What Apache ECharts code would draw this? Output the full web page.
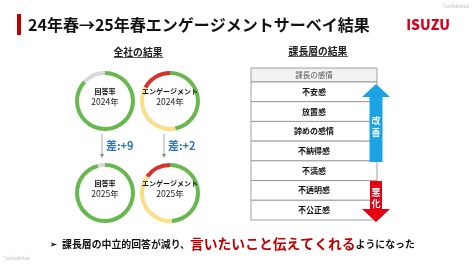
<!DOCTYPE html>
<html>
<head>
<meta charset="utf-8">
<script src="https://cdn.jsdelivr.net/npm/echarts@6/dist/echarts.min.js"></script>
<style>
    html, body { margin: 0; padding: 0; background: #fff; }
    #main { width: 474px; height: 266px; }
</style>
</head>
<body>
<div id="main"></div>
<script>
// 全社の結果 (%)
const donutTitles = ['回答率', 'エンゲージメント'];
const years = ['2024年', '2025年'];
const responseRate = [87, 96];               // 回答率 2024, 2025
const engagement2024 = [47, 36, 17];         // 肯定 / 中立 / 否定
const engagement2025 = [49, 36, 15];
const diffLabels = ['差:+9', '差:+2'];
// 課長層の結果
const tableHeader = '課長の感情';
const feelingRows = ['不安感', '放置感', '諦めの感情', '不納得感', '不満感', '不透明感', '不公正感'];

const FONT = '"Noto Sans CJK JP", "Noto Sans", sans-serif';
const GREEN = '#67b84f', GRAY = '#d9d9d9', YELLOW = '#fbdf86', RED = '#d8312b';

const chart = echarts.init(document.getElementById('main'));

// ドーナツ
const ring = (center, values, colors) => ({
    type: 'pie',
    center: center,
    radius: [26, 30],
    startAngle: 90,
    silent: true,
    label: { show: false },
    labelLine: { show: false },
    data: values.map((v, i) => ({ value: v, itemStyle: { color: colors[i] } }))
});

const colX = [105, 170];
const rowY = [101, 193];

const series = [
    ring([colX[0], rowY[0]], [responseRate[0], 100 - responseRate[0]], [GREEN, GRAY]),
    ring([colX[1], rowY[0]], engagement2024, [GREEN, YELLOW, RED]),
    ring([colX[0], rowY[1]], [responseRate[1], 100 - responseRate[1]], [GREEN, GRAY]),
    ring([colX[1], rowY[1]], engagement2025, [GREEN, YELLOW, RED])
];

const graphic = [];
const text = (x, y, str, size, opt) => {
    opt = opt || {};
    graphic.push({
        type: 'text', x: x, y: y, z: opt.z || 10,
        style: {
            text: str, fill: opt.color || '#222', fontSize: size,
            fontWeight: opt.weight || 'bold', fontFamily: FONT,
            align: opt.align || 'center', verticalAlign: 'middle'
        }
    });
};

// タイトル
graphic.push({ type: 'rect', shape: { x: 17, y: 14, width: 4, height: 21 }, style: { fill: '#c00000' } });
text(28, 25, '24年春→25年春エンゲージメントサーベイ結果', 16, { align: 'left', color: '#111' });
text(428, 25, 'ISUZU', 14, { color: '#d7001d', weight: 900 });
text(469, 6, 'Confidential', 4.5, { align: 'right', color: '#bbb', weight: 'normal' });
text(4, 258, 'Confidential', 4.5, { align: 'left', color: '#bbb', weight: 'normal' });

// 見出し
text(138, 52, '全社の結果', 9.8);
graphic.push({ type: 'line', shape: { x1: 114, y1: 57.5, x2: 163, y2: 57.5 }, style: { stroke: '#333', lineWidth: 0.8 } });
text(318, 51, '課長層の結果', 9.8);
graphic.push({ type: 'line', shape: { x1: 288, y1: 56.5, x2: 348, y2: 56.5 }, style: { stroke: '#333', lineWidth: 0.8 } });

// ドーナツ内ラベル
rowY.forEach((cy, r) => {
    colX.forEach((cx, c) => {
        text(cx, cy - 10, donutTitles[c], 7, { color: '#111' });
        text(cx, cy + 1, years[r], 8.5, { weight: 'normal', color: '#222' });
    });
});

// 差の矢印
colX.forEach((cx, c) => {
    const ax = [102, 164][c];
    graphic.push({ type: 'line', shape: { x1: ax, y1: 134, x2: ax, y2: 155 }, style: { stroke: '#a6a6a6', lineWidth: 1 } });
    graphic.push({ type: 'polygon', shape: { points: [[ax - 2, 154], [ax + 2, 154], [ax, 158]] }, style: { fill: '#8c8c8c' } });
    text(ax + 4, 146, diffLabels[c], 11, { align: 'left', color: '#2e74b5' });
});

// 課長の感情テーブル
const tx = 251, tw = 126, hy = 68, hh = 14, rh = (220 - 82) / feelingRows.length;
graphic.push({ type: 'rect', shape: { x: tx, y: hy, width: tw, height: hh }, style: { fill: '#f2f2f2', stroke: '#8c8c8c', lineWidth: 0.8 } });
text(tx + tw / 2, hy + hh / 2, tableHeader, 7.5, { weight: 'normal', color: '#595959' });
feelingRows.forEach((name, i) => {
    const y = hy + hh + i * rh;
    graphic.push({ type: 'rect', shape: { x: tx, y: y, width: tw, height: rh }, style: { fill: '#fff', stroke: '#8c8c8c', lineWidth: 0.8 } });
    text(tx + tw / 2, y + rh / 2, name, 8, { color: '#111' });
});

// 改善 / 悪化 矢印
graphic.push({
    type: 'polygon', z: 20,
    shape: { points: [[376, 84], [390, 97], [382.5, 97], [382.5, 162], [369.5, 162], [369.5, 97], [362, 97]] },
    style: { fill: '#1ba3e3' }
});
graphic.push({
    type: 'polygon', z: 20,
    shape: { points: [[370, 181], [382, 181], [382, 209], [390, 209], [376, 222], [362, 209], [370, 209]] },
    style: { fill: '#e50012' }
});
text(376, 121, '改', 9, { color: '#fff', z: 30 });
text(376, 133, '善', 9, { color: '#fff', z: 30 });
text(376, 193, '悪', 9, { color: '#fff', z: 30 });
text(376, 204, '化', 9, { color: '#fff', z: 30 });

// まとめ
text(50, 244, '➢', 7.5, { align: 'left', color: '#111' });
graphic.push({
    type: 'text', x: 62, y: 244, z: 10,
    style: {
        text: '{a|課長層の中立的回答が減り、}{b|言いたいこと伝えてくれる}{a|ようになった}',
        verticalAlign: 'middle', align: 'left',
        rich: {
            a: { fontSize: 9.9, fontWeight: 'bold', fill: '#111', fontFamily: FONT },
            b: { fontSize: 13.8, fontWeight: 'bold', fill: '#c00000', fontFamily: FONT }
        }
    }
});

chart.setOption({
    backgroundColor: '#fff',
    animation: false,
    series: series,
    graphic: graphic
});
</script>
</body>
</html>
